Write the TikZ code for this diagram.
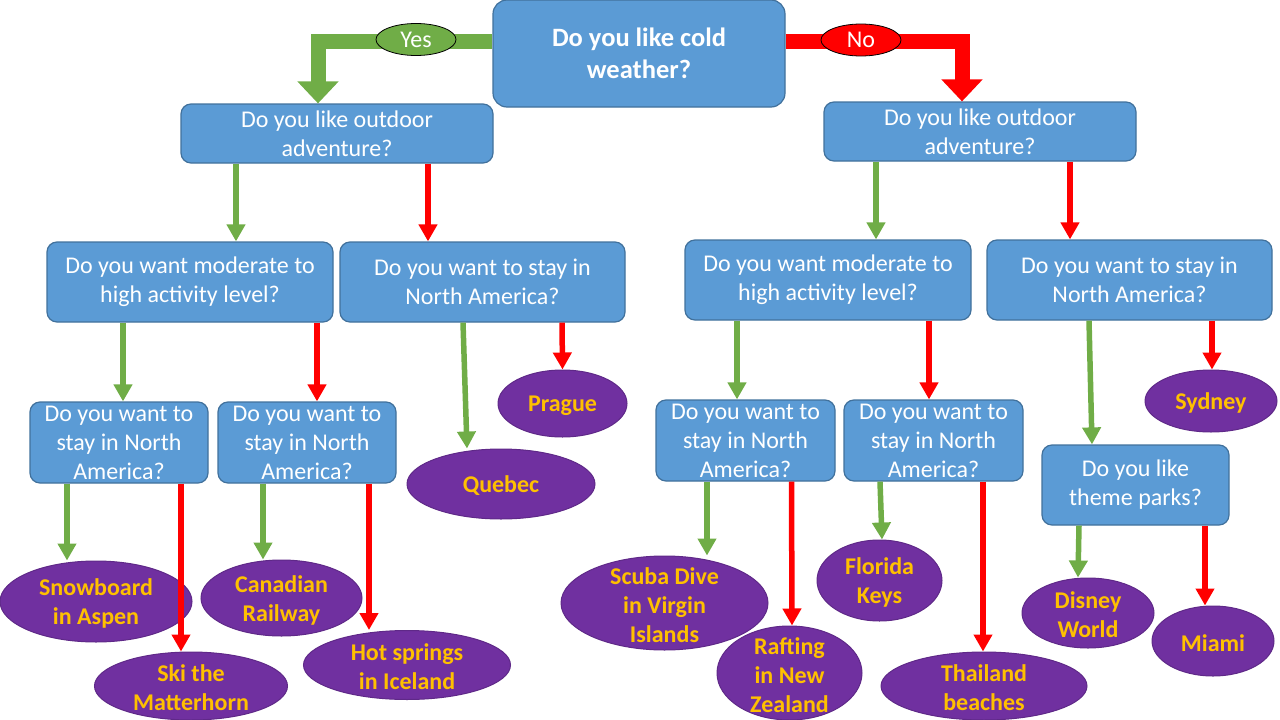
\documentclass[tikz,border=0pt]{standalone}
\usepackage{fontspec}
\setmainfont{Carlito}
\usetikzlibrary{arrows.meta,shapes.geometric}

\definecolor{qblue}{HTML}{5B9BD5}
\definecolor{qedge}{HTML}{41719C}
\definecolor{yesgreen}{HTML}{70AD47}
\definecolor{nored}{HTML}{FF0000}
\definecolor{placepurple}{HTML}{7030A0}
\definecolor{placegold}{HTML}{FFC000}

\begin{document}
\begin{tikzpicture}[x=1pt,y=-1pt]

	\tikzstyle question=[rectangle, rounded corners=10pt, fill=qblue, draw=qedge, line width=1.2pt, inner sep=0pt];
	\tikzstyle qtext=[text=white, align=center, font=\fontsize{24}{29}\selectfont];
	\tikzstyle place=[ellipse, fill=placepurple, draw=placepurple!85!black, line width=1pt, inner sep=0pt];
	\tikzstyle ptext=[text=placegold, align=center, font=\bfseries\fontsize{24}{29}\selectfont, yshift=-2pt];
	\tikzstyle answer=[ellipse, draw=black, line width=0.8pt, inner sep=0pt, minimum width=80pt, minimum height=32pt, text=white, font=\fontsize{24}{28}\selectfont];
	\tikzstyle yes lines=[draw=yesgreen, line width=5.5pt, -{Triangle[width=18pt,length=17pt]}];
	\tikzstyle no lines=[draw=nored, line width=5.5pt, -{Triangle[width=18pt,length=17pt]}];
	\tikzstyle big yes=[draw=yesgreen, line width=15pt, -{Triangle[width=40pt,length=22pt]}];
	\tikzstyle big no=[draw=nored, line width=15pt, -{Triangle[width=40pt,length=22pt]}];

	\useasboundingbox (0,0) rectangle (1280,720);

	% questions
	\node[question, rounded corners=14pt, minimum width=292pt, minimum height=107pt, label={[qtext, font=\bfseries\fontsize{26.5}{31.5}\selectfont]center:Do you like cold\\weather?}] (cold) at (639,53.5) {};
	\node[question, minimum width=312pt, minimum height=59pt, label={[qtext]center:Do you like outdoor\\adventure?}] (outdoorL) at (337,133.5) {};
	\node[question, minimum width=312pt, minimum height=59pt, label={[qtext]center:Do you like outdoor\\adventure?}] (outdoorR) at (980,131.5) {};

	\node[question, minimum width=286pt, minimum height=80pt, label={[qtext]center:Do you want moderate to\\high activity level?}] (activeL) at (190,282) {};
	\node[question, minimum width=285pt, minimum height=80pt, label={[qtext]center:Do you want to stay in\\North America?}] (stayNA) at (482.5,282) {};
	\node[question, minimum width=286pt, minimum height=80pt, label={[qtext]center:Do you want moderate to\\high activity level?}] (activeR) at (828,280) {};
	\node[question, minimum width=285pt, minimum height=80pt, label={[qtext]center:Do you want to stay in\\North America?}] (stayR) at (1129.5,280) {};

	\node[question, minimum width=178pt, minimum height=81pt, label={[qtext]center:Do you want to\\stay in North\\America?}] (stayLL) at (119,442.5) {};
	\node[question, minimum width=178pt, minimum height=81pt, label={[qtext]center:Do you want to\\stay in North\\America?}] (stayLR) at (307,442.5) {};
	\node[question, minimum width=179pt, minimum height=81pt, label={[qtext]center:Do you want to\\stay in North\\America?}] (stayRL) at (745.5,440.5) {};
	\node[question, minimum width=179pt, minimum height=81pt, label={[qtext]center:Do you want to\\stay in North\\America?}] (stayRR) at (933.5,440.5) {};
	\node[question, minimum width=187pt, minimum height=80pt, label={[qtext]center:Do you like\\theme parks?}] (theme) at (1135.5,485) {};

	% places
	\node[place, minimum width=192pt, minimum height=81pt, label={[ptext]center:Snowboard\\in Aspen}] (aspen) at (96,601.5) {};
	\node[place, minimum width=193pt, minimum height=68pt, label={[ptext]center:Ski the\\Matterhorn}] (matterhorn) at (191,686) {};
	\node[place, minimum width=161pt, minimum height=76pt, label={[ptext]center:Canadian\\Railway}] (railway) at (281.5,598) {};
	\node[place, minimum width=207pt, minimum height=69pt, label={[ptext]center:Hot springs\\in Iceland}] (iceland) at (407,665) {};
	\node[place, minimum width=188pt, minimum height=70pt, label={[ptext]center:Quebec}] (quebec) at (501,484) {};
	\node[place, minimum width=129pt, minimum height=67pt, label={[ptext]center:Prague}] (prague) at (562.5,403.5) {};
	\node[place, minimum width=207pt, minimum height=94pt, label={[ptext]center:Scuba Dive\\in Virgin\\Islands}] (scuba) at (664.5,603) {};
	\node[place, minimum width=145pt, minimum height=94pt, label={[ptext]center:Rafting\\in New\\Zealand}] (rafting) at (789.5,673) {};
	\node[place, minimum width=125pt, minimum height=81pt, label={[ptext]center:Florida\\Keys}] (florida) at (879.5,580.5) {};
	\node[place, minimum width=206pt, minimum height=68pt, label={[ptext]center:Thailand\\beaches}] (thailand) at (984,686) {};
	\node[place, minimum width=132pt, minimum height=70pt, label={[ptext]center:Disney\\World}] (disney) at (1088,613) {};
	\node[place, minimum width=122pt, minimum height=70pt, label={[ptext]center:Miami}] (miami) at (1213,641) {};
	\node[place, minimum width=132pt, minimum height=62pt, label={[ptext]center:Sydney}] (sydney) at (1211,401) {};

	% first split
	\draw[big yes] ([yshift=12.5pt]cold.west) -| ([xshift=-19pt]outdoorL.north);
	\draw[big no] ([yshift=12.5pt]cold.east) -| ([xshift=-18pt]outdoorR.north);
	\node[answer, fill=yesgreen] (yesmark) at (416,39.5) {Yes};
	\node[answer, fill=nored] (nomark) at (861,40) {No};

	\draw[yes lines] ([xshift=-101pt]outdoorL.south) -- ([xshift=-101pt]outdoorL.south |- activeL.north);
	\draw[no lines] ([xshift=91pt]outdoorL.south) -- ([xshift=91pt]outdoorL.south |- stayNA.north);
	\draw[yes lines] ([xshift=-104pt]outdoorR.south) -- ([xshift=-104pt]outdoorR.south |- activeR.north);
	\draw[no lines] ([xshift=90pt]outdoorR.south) -- ([xshift=90pt]outdoorR.south |- stayR.north);

	\draw[yes lines] ([xshift=-67pt]activeL.south) -- ([xshift=-67pt]activeL.south |- stayLL.north);
	\draw[no lines] ([xshift=127pt]activeL.south) -- ([xshift=127pt]activeL.south |- stayLR.north);
	\draw[yes lines] ([xshift=-19.5pt]stayNA.south) -- ([xshift=-34pt]quebec.north);
	\draw[no lines] ([xshift=79.5pt]stayNA.south) -- (prague.north);
	\draw[yes lines] ([xshift=-91pt]activeR.south) -- ([xshift=-91pt]activeR.south |- stayRL.north);
	\draw[no lines] ([xshift=101pt]activeR.south) -- ([xshift=101pt]activeR.south |- stayRR.north);
	\draw[yes lines] ([xshift=-40.5pt]stayR.south) -- ([xshift=-43.5pt]theme.north);
	\draw[no lines] ([xshift=82.5pt]stayR.south) -- ([xshift=1pt]sydney.north);

	\draw[yes lines] ([xshift=-52pt]stayLL.south) -- ([xshift=-29pt]aspen.north);
	\draw[no lines] ([xshift=62pt]stayLL.south) -- ([xshift=-10pt]matterhorn.north);
	\draw[yes lines] ([xshift=-44pt]stayLR.south) -- ([xshift=-18.5pt]railway.north);
	\draw[no lines] ([xshift=62pt]stayLR.south) -- ([xshift=-38pt]iceland.north);
	\draw[yes lines] ([xshift=-38.5pt]stayRL.south) -- ([xshift=42.5pt]scuba.north);
	\draw[no lines] ([xshift=46pt]stayRL.south) -- ([xshift=2.5pt]rafting.north);
	\draw[yes lines] ([xshift=-53.5pt]stayRR.south) -- ([xshift=2.5pt]florida.north);
	\draw[no lines] ([xshift=49.5pt]stayRR.south) -- ([xshift=-1pt]thailand.north);
	\draw[yes lines] ([xshift=-56.5pt]theme.south) -- ([xshift=-10pt]disney.north);
	\draw[no lines] ([xshift=69.5pt]theme.south) -- ([xshift=-8pt]miami.north);

\end{tikzpicture}
\end{document}
